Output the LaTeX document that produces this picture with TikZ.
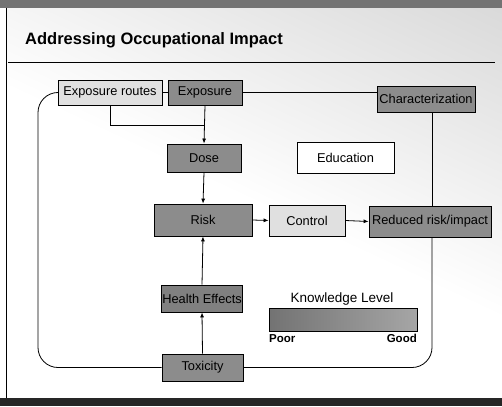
\documentclass[tikz,border=0pt]{standalone}
\usepackage{fontspec}
\setmainfont{Liberation Sans}
\usetikzlibrary{arrows.meta}
\pgfdeclarehorizontalshading{slidebg}{100bp}{color(0bp)=(white); color(50bp)=(white); color(100bp)=(black!22)}
\begin{document}
\begin{tikzpicture}[x=1pt,y=-1pt,
  box/.style={draw=black, line width=0.8pt, minimum width=#1, inner sep=1pt, font=\fontsize{12.8}{15}\selectfont},
  dark/.style={fill=black!45},
  light/.style={fill=black!12},
  conn/.style={draw=black, line width=0.8pt},
  arr/.style={conn, -{Latex[length=5pt,width=4pt]}},
  loopline/.style={conn, rounded corners=20pt}]
\useasboundingbox (0,0) rectangle (502,406);
% background
\shade[shading=slidebg, shading angle=65] (6,8) rectangle (502,398);
\fill[black!55] (0,0) rectangle (502,8);
\fill[black!85] (0,398) rectangle (502,406);
\draw[line width=0.8pt] (6,8) -- (6,398);
% title
\node[anchor=base west, font=\bfseries\fontsize{16.5}{19}\selectfont, inner sep=0pt] (title) at (25,45) {Addressing Occupational Impact};
\draw[line width=0.8pt] (8,62) -- (495,62);
% nodes
\node[box=104pt, minimum height=25pt, light] (routes) at (110,92.5) {Exposure routes};
\node[box=74pt, minimum height=25pt, dark] (expo) at (205,92.5) {Exposure};
\node[box=98pt, minimum height=26pt, dark] (charz) at (426,99) {Characterization};
\node[box=74pt, minimum height=28pt, dark] (dose) at (204,158) {Dose};
\node[box=97pt, minimum height=31pt, fill=white] (educ) at (345.5,157.5) {Education};
\node[box=98pt, minimum height=32pt, dark] (risk) at (203,220) {Risk};
\node[box=76pt, minimum height=31pt, light] (control) at (307,220.5) {Control};
\node[box=122pt, minimum height=31pt, dark] (reduced) at (430,221.5) {Reduced risk/impact};
\node[box=80pt, minimum height=27pt, fill=black!50] (health) at (202,298.5) {Health Effects};
\node[box=81pt, minimum height=27pt, dark] (tox) at (202.5,367.5) {Toxicity};
% knowledge level
\node[font=\fontsize{13.5}{16}\selectfont, inner sep=0pt] (kl) at (342,299) {Knowledge Level};
\shade[left color=black!55, right color=black!35] (269,308) rectangle (417,331);
\draw[line width=0.8pt] (269,308) rectangle (417,331);
\node[anchor=north west, font=\bfseries\fontsize{11.5}{13}\selectfont, inner sep=0pt] (poor) at (269,334) {Poor};
\node[anchor=north east, font=\bfseries\fontsize{11.5}{13}\selectfont, inner sep=0pt] (good) at (417,334) {Good};
% connectors
\coordinate (join) at (204,125);
\draw[conn] (routes.east) -- (expo.west);
\draw[conn] (expo.east) -- (expo.east -| charz.west);
\draw[conn] (routes.south) |- (join);
\draw[arr] (expo.south) -- (dose.north);
\draw[arr] (dose.south) -- (risk.north);
\draw[arr] (risk.east) -- (control.west);
\draw[arr] (control.east) -- (reduced.west);
\draw[arr] (tox.north) -- (health.south);
\draw[arr] (health.north) -- (risk.south);
\draw[loopline] (routes.west) -| (38,367.5) -- (tox.west);
\draw[conn] ([xshift=6pt]charz.south) -- ([xshift=2pt]reduced.north);
\draw[loopline] ([xshift=2pt]reduced.south) |- (tox.east);
\end{tikzpicture}
\end{document}
